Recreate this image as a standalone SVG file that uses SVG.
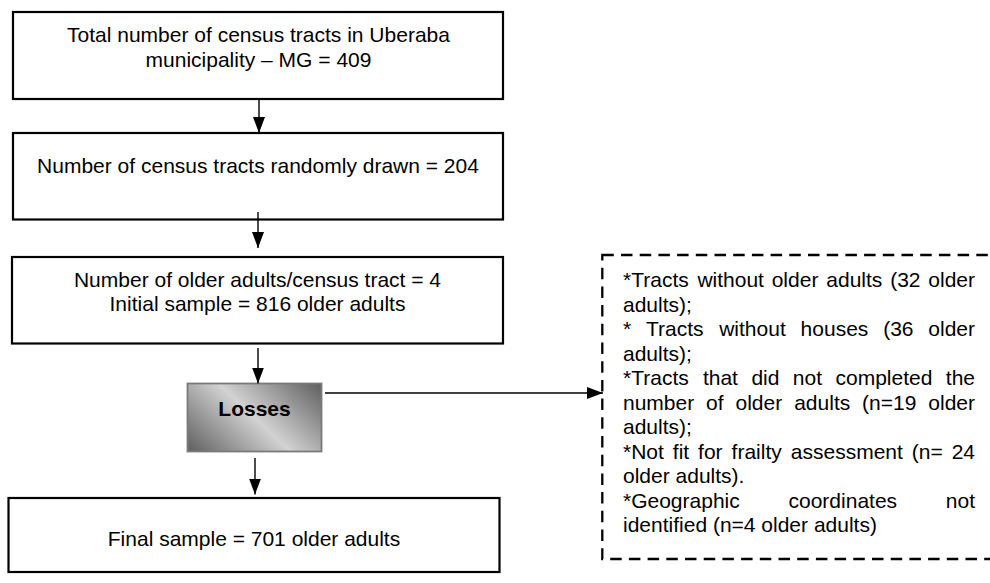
<svg xmlns="http://www.w3.org/2000/svg" width="990" height="583" viewBox="0 0 990 583">
<style>
  .box { fill: #ffffff; stroke: #000000; stroke-width: 2.2; }
  .t { font-family: "Liberation Sans", Arial, sans-serif; font-size: 21px; fill: #000000; }
  .c { text-anchor: middle; }
  .e { text-anchor: end; }
  .b { font-weight: bold; }
  .conn { stroke: #000000; stroke-width: 1.4; fill: none; }
  .dash { fill: none; stroke: #000000; stroke-width: 2.3; stroke-dasharray: 11.5 7.2; }
</style>
<defs>
  <marker id="ah" markerUnits="userSpaceOnUse" markerWidth="16" markerHeight="12" refX="16" refY="6" orient="auto" viewBox="0 0 16 12">
    <path d="M0,0 L16,6 L0,12 Z" fill="#000000"/>
  </marker>
  <linearGradient id="lossGrad" gradientUnits="userSpaceOnUse" x1="205" y1="470" x2="304" y2="365">
    <stop offset="0" stop-color="#5c5c5c"/>
    <stop offset="0.5" stop-color="#d2d2d2"/>
    <stop offset="1" stop-color="#5c5c5c"/>
  </linearGradient>
</defs>
<rect width="990" height="583" fill="#ffffff"/>

<g id="total">
  <rect class="box" x="13" y="12" width="490" height="87"/>
  <text class="t c" x="258.5" y="42">Total number of census tracts in Uberaba</text>
  <text class="t c" x="258.5" y="66.5">municipality – MG = 409</text>
</g>

<g id="drawn">
  <rect class="box" x="13" y="133" width="490" height="86.5"/>
  <text class="t c" x="258" y="173">Number of census tracts randomly drawn = 204</text>
</g>

<g id="initial">
  <rect class="box" x="12" y="257" width="491" height="86.5"/>
  <text class="t c" x="257.5" y="287">Number of older adults/census tract = 4</text>
  <text class="t c" x="257.5" y="311">Initial sample = 816 older adults</text>
</g>

<g id="losses">
  <rect x="187.5" y="383.5" width="134" height="68" fill="url(#lossGrad)" stroke="#7a7a7a" stroke-width="1.8"/>
  <text class="t c b" x="254.5" y="415.5">Losses</text>
</g>

<g id="final">
  <rect class="box" x="8.5" y="498" width="491" height="74"/>
  <text class="t c" x="254" y="546">Final sample = 701 older adults</text>
</g>

<g id="reasons">
  <rect class="dash" x="602.3" y="255" width="400" height="304"/>
  <text class="t" y="287"><tspan x="623">*Tracts</tspan><tspan x="697.4">without</tspan><tspan x="771.7">older</tspan><tspan x="826.3">adults</tspan><tspan x="890.2">(32</tspan></text>
  <text class="t e" x="975" y="287">older</text>
  <text class="t" x="623" y="311.5">adults);</text>
  <text class="t" y="336"><tspan x="623">*</tspan><tspan x="646">Tracts</tspan><tspan x="719.2">without</tspan><tspan x="800.6">houses</tspan><tspan x="883.2">(36</tspan></text>
  <text class="t e" x="975" y="336">older</text>
  <text class="t" x="623" y="360.5">adults);</text>
  <text class="t" y="385"><tspan x="623">*Tracts</tspan><tspan x="702.9">that</tspan><tspan x="751.4">did</tspan><tspan x="792.8">not</tspan><tspan x="835.5">completed</tspan></text>
  <text class="t e" x="975" y="385">the</text>
  <text class="t" y="409.5"><tspan x="623">number</tspan><tspan x="706.1">of</tspan><tspan x="735.5">older</tspan><tspan x="794.2">adults</tspan><tspan x="862.1">(n=19</tspan></text>
  <text class="t e" x="975" y="409.5">older</text>
  <text class="t" x="623" y="434">adults);</text>
  <text class="t" y="458.5"><tspan x="623">*Not</tspan><tspan x="672.8">fit</tspan><tspan x="698.1">for</tspan><tspan x="731.6">frailty</tspan><tspan x="790.8">assessment</tspan><tspan x="911.8">(n=</tspan></text>
  <text class="t e" x="975" y="458.5">24</text>
  <text class="t" x="623" y="483">older adults).</text>
  <text class="t" y="507.5"><tspan x="623">*Geographic</tspan><tspan x="788.5">coordinates</tspan></text>
  <text class="t e" x="975" y="507.5">not</text>
  <text class="t" x="623" y="532">identified (n=4 older adults)</text>
</g>

<g id="connectors">
  <line class="conn" x1="259" y1="99" x2="259" y2="133" marker-end="url(#ah)"/>
  <line class="conn" x1="258" y1="212" x2="258" y2="248" marker-end="url(#ah)"/>
  <line class="conn" x1="258" y1="348" x2="258" y2="383.5" marker-end="url(#ah)"/>
  <line class="conn" x1="255" y1="458" x2="255" y2="494.5" marker-end="url(#ah)"/>
  <line class="conn" x1="325" y1="393" x2="603" y2="393" marker-end="url(#ah)"/>
</g>
</svg>
